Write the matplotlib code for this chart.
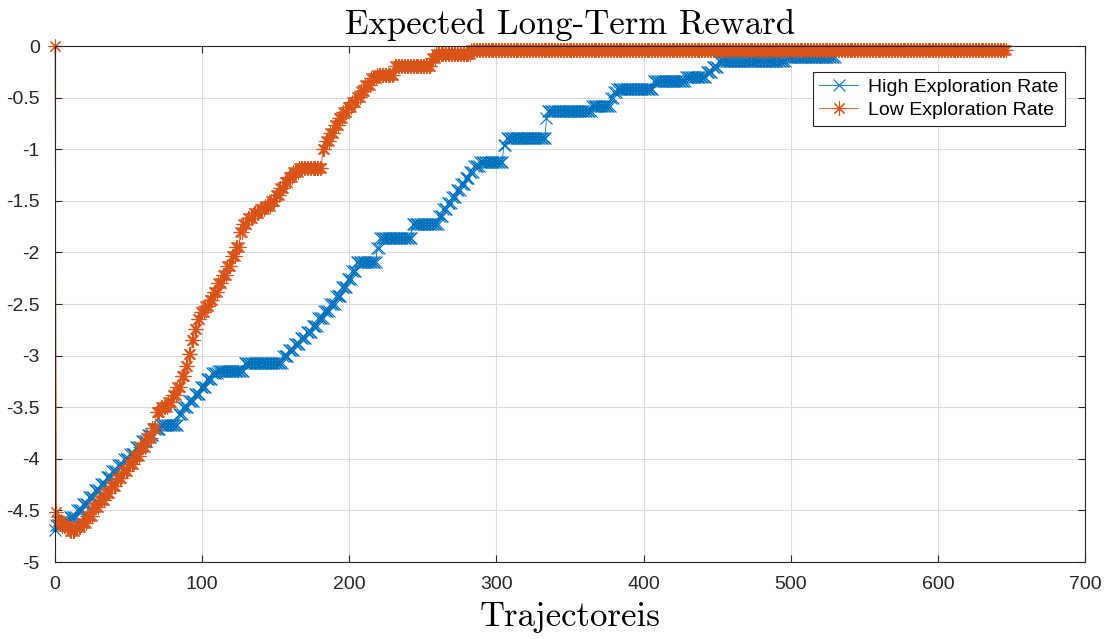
import matplotlib
matplotlib.use("Agg")
import matplotlib.pyplot as plt
import numpy as np

# run-length data: (level, number of consecutive trajectories at that level)
high_levels = [-4.69, -4.64, -4.6, -4.56, -4.5, -4.44, -4.37, -4.3, -4.24, -4.18,
               -4.12, -4.06, -4.0, -3.95, -3.89, -3.83, -3.77, -3.71, -3.67, -3.57,
               -3.5, -3.44, -3.37, -3.3, -3.23, -3.17, -3.15, -3.07, -3.0, -2.95,
               -2.89, -2.83, -2.77, -2.71, -2.64, -2.57, -2.5, -2.42, -2.34, -2.26,
               -2.18, -2.09, -1.96, -1.86, -1.72, -1.65, -1.58, -1.52, -1.46, -1.4,
               -1.34, -1.28, -1.22, -1.16, -1.12, -0.96, -0.89, -0.7, -0.63, -0.58,
               -0.5, -0.45, -0.42, -0.34, -0.3, -0.25, -0.2, -0.15, -0.11]
high_runs = [1, 4, 5, 5, 4, 4, 4, 4, 4, 4,
             4, 4, 4, 4, 4, 4, 4, 5, 12, 3,
             4, 4, 4, 4, 4, 4, 18, 26, 4, 4,
             4, 4, 4, 4, 4, 4, 4, 4, 4, 3,
             3, 14, 2, 22, 18, 3, 3, 3, 3, 3,
             3, 3, 3, 4, 16, 2, 27, 1, 30, 13,
             2, 2, 25, 22, 14, 4, 4, 46, 34]

low_levels = [0.0, -4.52, -4.6, -4.65, -4.7, -4.66, -4.62, -4.55, -4.47, -4.4,
              -4.33, -4.26, -4.19, -4.12, -4.05, -3.97, -3.89, -3.8, -3.7, -3.55,
              -3.5, -3.45, -3.38, -3.3, -3.2, -3.1, -2.98, -2.85, -2.74, -2.65,
              -2.58, -2.52, -2.46, -2.38, -2.3, -2.22, -2.13, -2.03, -1.95, -1.8,
              -1.72, -1.67, -1.62, -1.58, -1.55, -1.5, -1.44, -1.38, -1.32, -1.27,
              -1.22, -1.18, -1.0, -0.92, -0.84, -0.77, -0.7, -0.64, -0.59, -0.54,
              -0.49, -0.44, -0.38, -0.31, -0.28, -0.19, -0.12, -0.08, -0.04]
low_runs = [1, 1, 3, 5, 4, 4, 4, 4, 4, 4,
            4, 4, 4, 4, 4, 4, 4, 4, 3, 3,
            5, 3, 3, 3, 3, 2, 2, 2, 2, 2,
            3, 3, 3, 3, 3, 3, 3, 3, 3, 2,
            3, 4, 4, 4, 4, 3, 3, 3, 3, 3,
            4, 16, 2, 3, 3, 3, 3, 3, 3, 3,
            3, 3, 4, 4, 12, 25, 3, 24, 364]

high = np.repeat(high_levels, high_runs)
low = np.repeat(low_levels, low_runs)

blue = '#0072BD'
orange = '#D95319'
axcol = '#262626'
sans = ['Liberation Sans', 'DejaVu Sans']

fig = plt.figure(figsize=(11.16, 6.39), dpi=100)
ax = fig.add_axes([0.0493, 0.1205, 0.9229, 0.8075])

ax.plot(np.arange(len(high)), high, color=blue, marker='x', markersize=8.5,
        markeredgewidth=0.8, linewidth=0.6, label='High Exploration Rate', clip_on=False)
ax.plot(np.arange(len(low)), low, color=orange, marker=(8, 2, 0), markersize=10,
        markeredgewidth=0.8, linewidth=0.6, label='Low Exploration Rate', clip_on=False)

ax.set_xlim(0, 700)
ax.set_ylim(-5, 0)
ax.set_xticks(np.arange(0, 701, 100))
yt = np.arange(-5, 0.01, 0.5)
ax.set_yticks(yt)
ax.set_yticklabels(['%g' % v if v != 0 else '0' for v in yt])
ax.tick_params(direction='in', top=True, right=True, labelsize=14, colors=axcol,
               length=5, width=0.8)
ax.tick_params(axis='x', pad=10)
ax.tick_params(axis='y', pad=11)
for lab in ax.get_xticklabels() + ax.get_yticklabels():
    lab.set_fontfamily(sans)
for s in ax.spines.values():
    s.set_color(axcol)
    s.set_linewidth(0.8)
ax.grid(True, color='#dcdcdc', linewidth=0.8)
ax.set_axisbelow(True)

ax.set_title('Expected Long-Term Reward', fontfamily='cmr10', fontsize=25, pad=9)
ax.set_xlabel('Trajectoreis', fontfamily='cmr10', fontsize=25, labelpad=6)

leg = ax.legend(loc='upper right', bbox_to_anchor=(0.981, 0.95),
                prop={'family': sans, 'size': 14},
                fancybox=False, edgecolor=axcol, framealpha=1, borderaxespad=0,
                handlelength=2.0, labelspacing=0.25, borderpad=0.35, handletextpad=0.5)
leg.get_frame().set_linewidth(0.8)

fig.savefig('out.png', dpi=100)
